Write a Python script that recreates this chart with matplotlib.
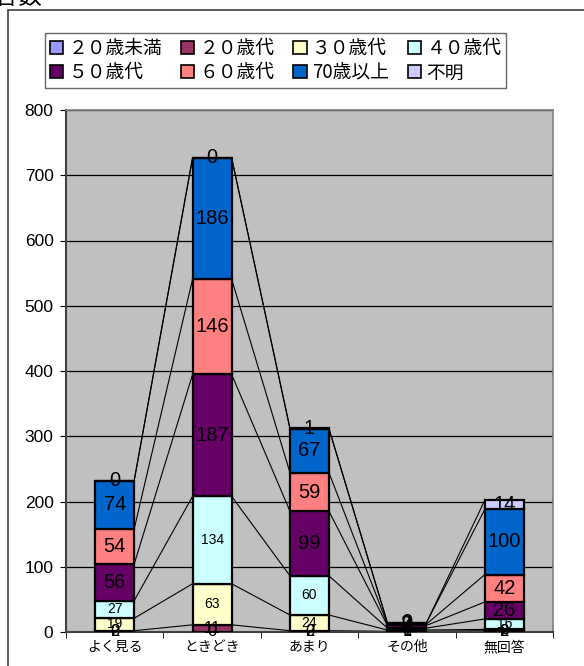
import matplotlib.pyplot as plt
import matplotlib.patches as mpatches
import numpy as np

plt.rcParams['font.family'] = ['Noto Sans CJK JP', 'DejaVu Sans']

# ── data ──────────────────────────────────────────────────────────────────────
categories = ["よく見る", "ときどき", "あまり", "その他", "無回答"]
series = ["２０歳未満", "２０歳代", "３０歳代", "４０歳代",
          "５０歳代", "６０歳代", "70歳以上", "不明"]

v_u20 = [0, 0, 0, 0, 0]
v_20s = [2, 11, 2, 1, 2]
v_30s = [19, 63, 24, 2, 2]
v_40s = [27, 134, 60, 3, 16]
v_50s = [56, 187, 99, 4, 26]
v_60s = [54, 146, 59, 2, 42]
v_70s = [74, 186, 67, 2, 100]
v_unk = [0, 0, 1, 0, 14]

colors = ["#9999FF", "#993366", "#FFFFCC", "#CCFFFF",
          "#660066", "#FF8080", "#0066CC", "#CCCCFF"]
label_sizes = [12, 12, 10, 10, 14.5, 14.5, 14.5, 14.5]

values = np.array([v_u20, v_20s, v_30s, v_40s, v_50s, v_60s, v_70s, v_unk], float)

# ── figure ────────────────────────────────────────────────────────────────────
W, H = 584, 666
fig = plt.figure(figsize=(W / 100, H / 100), dpi=100)

def fx(px):
    return px / W

def fy(py):
    return 1 - py / H

# outer chart frame (cut at right / bottom)
fig.patches.append(mpatches.Rectangle((fx(8), fy(700)), fx(620), fy(10) - fy(700),
                                      transform=fig.transFigure, fill=False,
                                      edgecolor="#404040", linewidth=1.2))
fig.text(fx(42), fy(9), "回答数", ha="right", va="bottom", fontsize=17)

ax = fig.add_axes([fx(66), fy(632), fx(553 - 66), fy(110) - fy(632)])
ax.set_facecolor("#C0C0C0")

x = np.arange(len(categories))
w = 0.4
bottoms = np.zeros(len(categories))
tops = []
for k in range(len(series)):
    ax.bar(x, values[k], w, bottom=bottoms, color=colors[k],
           edgecolor="black", linewidth=1.6, zorder=3)
    for i in range(len(categories)):
        ax.text(x[i], bottoms[i] + values[k][i] / 2, f"{int(values[k][i])}",
                ha="center", va="center", fontsize=label_sizes[k],
                family=["Liberation Sans", "DejaVu Sans"], zorder=4)
    bottoms = bottoms + values[k]
    tops.append(bottoms.copy())

# series lines
for cum in tops:
    for i in range(len(categories) - 1):
        ax.plot([x[i] + w / 2, x[i + 1] - w / 2], [cum[i], cum[i + 1]],
                color="black", linewidth=0.8, zorder=2)

ax.set_xlim(-0.5, len(categories) - 0.5)
ax.set_ylim(0, 800)
ax.set_yticks(range(0, 801, 100))
ax.yaxis.grid(True, color="black", linewidth=0.9, zorder=1)
ax.set_axisbelow(True)
ax.set_xticks(x)
ax.set_xticklabels(categories, fontsize=10)
ax.set_xticks(np.arange(-0.5, len(categories), 1), minor=True)
ax.tick_params(axis="x", which="major", length=0, pad=6)
ax.tick_params(axis="x", which="minor", length=4, direction="out")
ax.tick_params(axis="y", length=4, direction="out", labelsize=12.5, pad=5)
for lab in ax.get_yticklabels():
    lab.set_family(["Liberation Sans", "DejaVu Sans"])
for s in ("left", "bottom"):
    ax.spines[s].set_color("#404040")
    ax.spines[s].set_linewidth(1.5)
for s in ("top", "right"):
    ax.spines[s].set_color("#808080")
    ax.spines[s].set_linewidth(1.2)

# legend, row-major order like the original
handles = [mpatches.Patch(facecolor=c, edgecolor="black", linewidth=1.2) for c in colors]
order = [0, 4, 1, 5, 2, 6, 3, 7]
leg = fig.legend([handles[i] for i in order], [series[i] for i in order],
                 loc="upper left", bbox_to_anchor=(fx(45), fy(33)), ncol=4,
                 fontsize=13.5, frameon=True, fancybox=False, borderaxespad=0,
                 handlelength=0.7, handleheight=0.7, handletextpad=0.3,
                 columnspacing=1.0, labelspacing=0.2, borderpad=0.25)
leg.get_frame().set_edgecolor("#404040")
leg.get_frame().set_linewidth(1.0)

fig.savefig("out.png", dpi=100)
